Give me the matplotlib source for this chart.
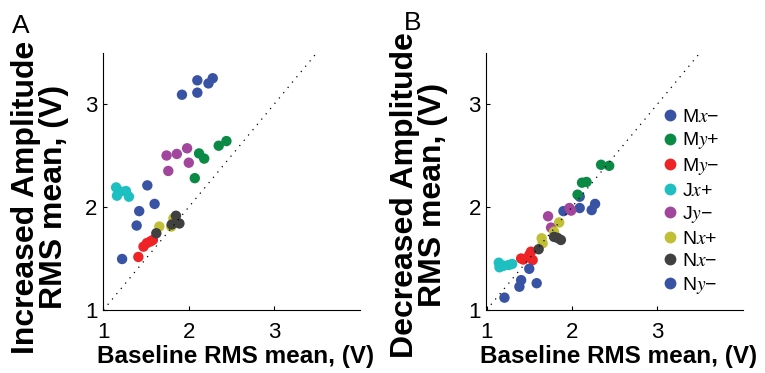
import matplotlib
matplotlib.use("Agg")
import matplotlib.pyplot as plt
from matplotlib.lines import Line2D

# ============================================================
# Data
# ============================================================
series_labels = ["M$x$\u2212", "M$y$+", "M$y$\u2212", "J$x$+", "J$y$\u2212",
                 "N$x$+", "N$x$\u2212", "N$y$\u2212"]
series_colors = ["#3953a4", "#0b8a45", "#ee2326", "#1dbfc1", "#a2459c",
                 "#c0bf35", "#404040", "#3953a4"]

# Panel A: increased amplitude vs baseline
inc_base = [
    [1.92, 2.10, 2.10, 2.23, 2.28],
    [2.35, 2.44, 2.12, 2.18, 2.07],
    [1.41, 1.47, 1.51, 1.55, 1.58],
    [1.15, 1.16, 1.20, 1.265, 1.30],
    [1.74, 1.86, 1.98, 2.00, 1.76],
    [1.655, 1.795, 1.82],
    [1.62, 1.80, 1.85, 1.89],
    [1.515, 1.60, 1.42, 1.39, 1.22],
]
inc_amp = [
    [3.09, 3.23, 3.11, 3.20, 3.25],
    [2.595, 2.64, 2.52, 2.47, 2.28],
    [1.515, 1.615, 1.65, 1.665, 1.68],
    [2.19, 2.11, 2.15, 2.155, 2.10],
    [2.50, 2.515, 2.57, 2.43, 2.35],
    [1.81, 1.81, 1.89],
    [1.745, 1.83, 1.915, 1.84],
    [2.21, 2.03, 1.96, 1.82, 1.495],
]

# Panel B: decreased amplitude vs baseline
dec_base = [
    [1.90, 2.09, 2.09, 2.23, 2.27],
    [2.34, 2.435, 2.117, 2.17, 2.065],
    [1.405, 1.43, 1.50, 1.54, 1.52],
    [1.144, 1.152, 1.20, 1.26, 1.30],
    [1.72, 1.755, 1.97, 1.99],
    [1.645, 1.657, 1.79, 1.85],
    [1.61, 1.79, 1.83, 1.87],
    [1.21, 1.385, 1.405, 1.50, 1.587],
]
dec_amp = [
    [1.96, 2.10, 1.99, 1.97, 2.03],
    [2.41, 2.40, 2.236, 2.243, 2.12],
    [1.50, 1.49, 1.534, 1.485, 1.566],
    [1.459, 1.415, 1.43, 1.437, 1.447],
    [1.91, 1.80, 1.99, 1.965],
    [1.696, 1.648, 1.76, 1.85],
    [1.59, 1.71, 1.70, 1.68],
    [1.12, 1.226, 1.29, 1.40, 1.26],
]

unity_line = [1, 3.5]
ticks = [1, 2, 3]

# ============================================================
# Fonts
# ============================================================
plt.rcParams["font.family"] = ["Liberation Sans", "DejaVu Sans"]
plt.rcParams["mathtext.fontset"] = "stix"

# ============================================================
# Figure
# ============================================================
fig = plt.figure(figsize=(7.65, 3.73), dpi=100)
W, H = 765.0, 373.0


def make_axes(left_px, base, amp):
    ax = fig.add_axes([left_px / W, 1 - 310 / H, 256.5 / W, 257.5 / H])
    for xs, ys, c in zip(base, amp, series_colors):
        ax.scatter(xs, ys, s=56, color=c, edgecolors="none", zorder=2)
    ax.plot(unity_line, unity_line, color="black", lw=0.9,
            linestyle=(0, (1, 4.5)), zorder=3)
    ax.set_xlim(1, 4)
    ax.set_ylim(1, 3.5)
    ax.set_xticks(ticks)
    ax.set_yticks(ticks)
    for side in ["top", "right"]:
        ax.spines[side].set_visible(False)
    for side in ["left", "bottom"]:
        ax.spines[side].set_linewidth(0.8)
    ax.tick_params(direction="in", length=3, width=0.8, labelsize=16)
    ax.tick_params(axis="x", pad=9)
    ax.tick_params(axis="y", pad=4)
    return ax


axA = make_axes(103.3, inc_base, inc_amp)
axB = make_axes(486.5, dec_base, dec_amp)

# Axis labels
for cx in [236, 619]:
    fig.text(cx / W, 1 - 356 / H, "Baseline RMS mean, (V)", ha="center", va="center",
             fontsize=17.5, fontweight="bold")
fig.text(40 / W, 1 - 197 / H, "Increased Amplitude\nRMS mean, (V)", ha="center",
         va="center", rotation=90, fontsize=23, fontweight="bold", linespacing=0.95)
fig.text(419 / W, 1 - 195 / H, "Decreased Amplitude\nRMS mean, (V)", ha="center",
         va="center", rotation=90, fontsize=23, fontweight="bold", linespacing=0.95)

# Panel letters
fig.text(12 / W, 1 - 26 / H, "A", ha="left", va="center", fontsize=19)
fig.text(404 / W, 1 - 23 / H, "B", ha="left", va="center", fontsize=19)

# Legend (blue appears twice: Mx- and Ny-)
handles = [Line2D([], [], marker="o", linestyle="none", markersize=8.5,
                  markerfacecolor=c, markeredgecolor="none") for c in series_colors]
axB.legend(handles, series_labels, loc="upper left", frameon=False, fontsize=14,
           bbox_to_anchor=(663 / W, 1 - 108 / H), bbox_transform=fig.transFigure,
           handlelength=0.7, handletextpad=0.3, labelspacing=0.245, borderpad=0,
           borderaxespad=0)

plt.savefig("out.png", dpi=100)
plt.close()
